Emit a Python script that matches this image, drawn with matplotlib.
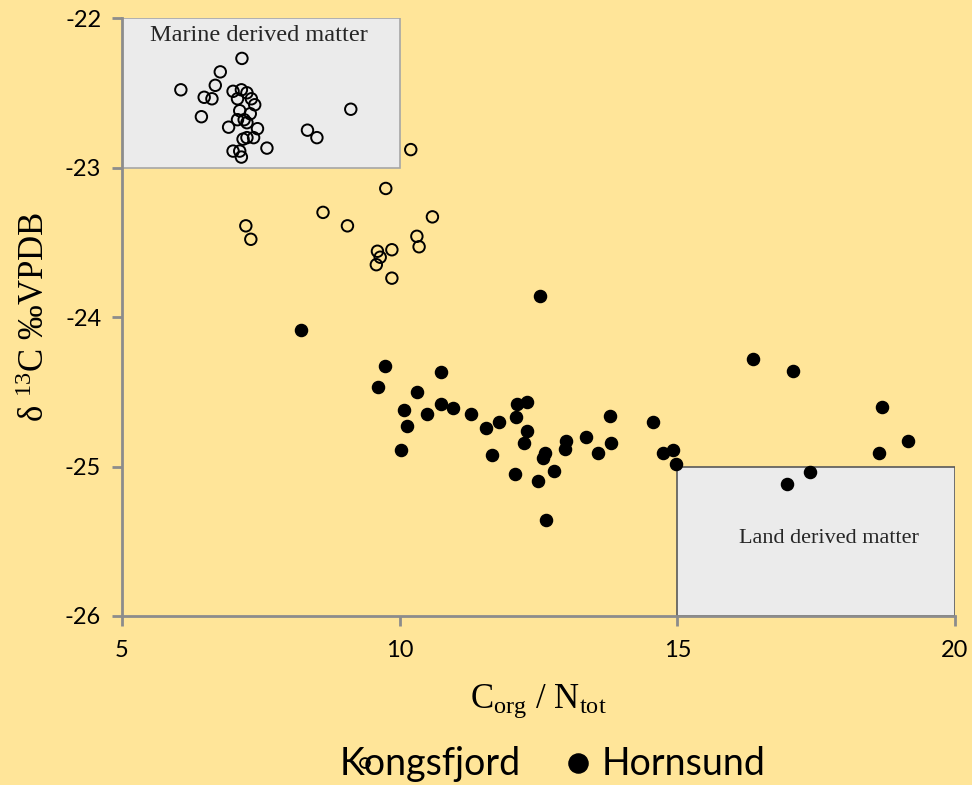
import matplotlib
matplotlib.use("Agg")
import matplotlib.pyplot as plt
from matplotlib.patches import Rectangle

plt.rcParams['mathtext.fontset'] = 'custom'
plt.rcParams['mathtext.rm'] = 'Liberation Serif'
plt.rcParams['axes.unicode_minus'] = False

# Kongsfjord (open circles)
kong_x = [7.16, 6.77, 6.68, 6.06, 6.48, 6.62, 6.43, 7.00, 7.15, 7.25, 7.08, 7.33,
          7.39, 7.12, 7.31, 9.12, 7.08, 7.20, 7.25, 6.92, 7.44, 8.34, 8.51, 7.18,
          7.25, 7.37, 7.61, 7.00, 7.12, 7.15, 10.20,
          9.75, 8.62, 9.06, 10.59, 10.31, 10.35, 9.60, 9.86, 9.65, 9.58, 9.86,
          7.23, 7.32]
kong_y = [-22.27, -22.36, -22.45, -22.48, -22.53, -22.54, -22.66, -22.49, -22.48, -22.50, -22.54, -22.54,
          -22.58, -22.62, -22.64, -22.61, -22.68, -22.68, -22.70, -22.73, -22.74, -22.75, -22.80, -22.81,
          -22.80, -22.80, -22.87, -22.89, -22.89, -22.93, -22.88,
          -23.14, -23.30, -23.39, -23.33, -23.46, -23.53, -23.56, -23.55, -23.60, -23.65, -23.74,
          -23.39, -23.48]

# Hornsund (filled circles)
horn_x = [12.52, 8.23, 9.73, 9.61, 10.74, 10.31, 10.08, 10.49, 10.75, 10.96, 10.13, 10.03,
          11.28, 11.56, 11.78, 12.12, 12.30, 12.09, 12.30, 12.24, 11.67, 12.61, 12.58, 12.07,
          12.50, 12.78, 13.00, 12.97, 13.35, 13.57, 13.79, 13.80, 12.64,
          16.37, 17.09, 14.57, 14.74, 14.92, 14.97, 17.39, 16.97, 18.68, 19.15, 18.63]
horn_y = [-23.86, -24.09, -24.33, -24.47, -24.37, -24.50, -24.62, -24.65, -24.58, -24.61, -24.73, -24.89,
          -24.65, -24.74, -24.70, -24.58, -24.57, -24.67, -24.76, -24.84, -24.92, -24.91, -24.94, -25.05,
          -25.10, -25.03, -24.83, -24.88, -24.80, -24.91, -24.66, -24.84, -25.36,
          -24.28, -24.36, -24.70, -24.91, -24.89, -24.98, -25.04, -25.12, -24.60, -24.83, -24.91]

bg = '#FFE599'
fig = plt.figure(figsize=(9.72, 7.85), dpi=100, facecolor=bg)
ax = fig.add_axes([0.1255, 0.2153, 0.857, 0.7617])
ax.set_facecolor(bg)

# reference boxes
ax.add_patch(Rectangle((5, -23), 5, 1, facecolor='#EBEBEB', edgecolor='#A6A6A6', lw=1.2, zorder=1))
ax.add_patch(Rectangle((15, -26), 5, 1, facecolor='#EBEBEB', edgecolor='#595959', lw=1.2, zorder=1))
ax.text(7.47, -22.12, 'Marine derived matter', family='Liberation Serif', fontsize=17.5,
        color='#262626', ha='center', va='center', zorder=2)
ax.text(17.73, -25.48, 'Land derived matter', family='Liberation Serif', fontsize=16,
        color='#262626', ha='center', va='center', zorder=2)

ax.scatter(kong_x, kong_y, s=68, facecolors='none', edgecolors='black', linewidths=1.4, zorder=3)
ax.scatter(horn_x, horn_y, s=76, color='black', zorder=3)

ax.set_xlim(5, 20)
ax.set_ylim(-26, -22)
ax.set_xticks([5, 10, 15, 20])
ax.set_yticks([-26, -25, -24, -23, -22])
for s in ['top', 'right']:
    ax.spines[s].set_visible(False)
for s in ['left', 'bottom']:
    ax.spines[s].set_color('#8C8C8C')
    ax.spines[s].set_linewidth(2)
ax.tick_params(colors='#8C8C8C', width=2, length=7, direction='out',
               labelcolor='black', labelsize=17)
ax.tick_params(axis='x', pad=10)
ax.tick_params(axis='y', pad=8)
for lab in ax.get_xticklabels() + ax.get_yticklabels():
    lab.set_family('Lato')

ax.set_xlabel(r'$\mathregular{C_{org}}$ / $\mathregular{N_{tot}}$', family='Liberation Serif',
              fontsize=25, labelpad=16)
ax.set_ylabel(r'δ $\mathregular{^{13}}$C ‰VPDB', family='Liberation Serif', fontsize=25, labelpad=9)

# legend drawn by hand (marker sits over the text as in the original)
fig.text(0.349, 0.0127, 'Kongsfjord', family='Lato', fontsize=27, ha='left', va='baseline')
fig.text(0.619, 0.0127, 'Hornsund', family='Lato', fontsize=27, ha='left', va='baseline')
ax.scatter([0.3755], [0.028], s=50, facecolors='none', edgecolors='black', linewidths=1.3,
           transform=fig.transFigure, clip_on=False, zorder=5)
ax.scatter([0.595], [0.028], s=190, color='black',
           transform=fig.transFigure, clip_on=False, zorder=5)

fig.savefig('out.png', dpi=100, facecolor=bg)
